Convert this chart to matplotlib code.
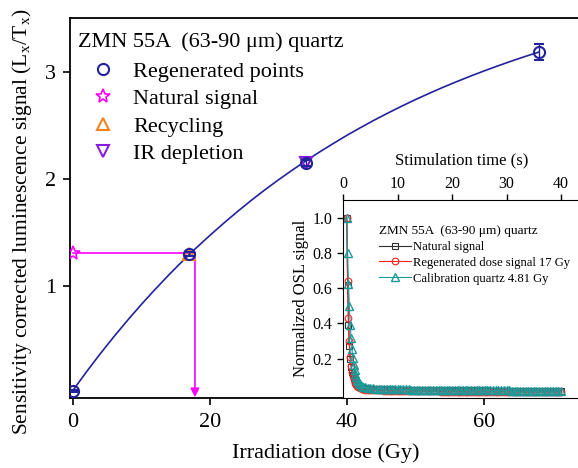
import numpy as np
import matplotlib
matplotlib.use('Agg')
import matplotlib.pyplot as plt
from matplotlib.lines import Line2D

plt.rcParams['font.family'] = 'Liberation Serif'
plt.rcParams['mathtext.fontset'] = 'stix'

# growth curve data (main plot)
regen_dose = [0, 17, 34, 68]
regen_signal = [0.02, 1.30, 2.15, 3.19]
regen_err = [0.01, 0.02, 0.03, 0.075]

natural_dose = [0]
natural_signal = [1.31]
recycling_dose = [17]
recycling_signal = [1.30]
ir_dose = [34]
ir_signal = [2.15]

# equivalent dose read-off
de_value = 17.8
nat_level = 1.31

# fitted curve
fit_dose = [0, 2, 4, 6, 8, 10, 12, 14, 16, 18, 20, 22, 24, 26, 28, 30, 32, 34,
            36, 38, 40, 42, 44, 46, 48, 50, 52, 54, 56, 58, 60, 62, 64, 66, 68]
fit_signal = [0.03, 0.205, 0.373, 0.533, 0.686, 0.833, 0.973, 1.108, 1.237, 1.360,
              1.477, 1.590, 1.698, 1.802, 1.901, 1.995, 2.085, 2.172, 2.255, 2.334,
              2.411, 2.483, 2.553, 2.619, 2.683, 2.744, 2.802, 2.858, 2.911, 2.962,
              3.011, 3.058, 3.103, 3.146, 3.187]

# inset: OSL decay curves
t_early = [0.64, 0.80, 0.96, 1.12, 1.28, 1.44, 1.60, 1.76, 1.92, 2.08, 2.24,
           2.40, 2.56, 2.72, 2.88, 3.04, 3.36, 3.68, 4.00]
nat_early = [1.00, 0.62, 0.39, 0.27, 0.20, 0.155, 0.125, 0.105, 0.09, 0.078, 0.068,
             0.060, 0.054, 0.049, 0.045, 0.042, 0.038, 0.035, 0.033]
reg_early = [1.00, 0.64, 0.43, 0.30, 0.21, 0.16, 0.125, 0.10, 0.083, 0.07, 0.06,
             0.052, 0.046, 0.041, 0.037, 0.034, 0.030, 0.027, 0.025]
cal_early = [1.00, 0.80, 0.625, 0.50, 0.39, 0.317, 0.255, 0.205, 0.165, 0.135, 0.112,
             0.095, 0.082, 0.071, 0.063, 0.056, 0.047, 0.041, 0.037]

# background part of the decay, one channel every 0.5 s from 4.5 s to 40 s
t_tail = list(np.arange(4.5, 40.01, 0.5))
nat_tail = [0.031, 0.030, 0.029, 0.028, 0.028, 0.027, 0.027, 0.026,
            0.026, 0.026, 0.025, 0.025, 0.025, 0.025, 0.024, 0.024,
            0.024, 0.024, 0.023, 0.023, 0.023, 0.023, 0.023, 0.022,
            0.022, 0.022, 0.022, 0.022, 0.022, 0.021, 0.021, 0.021,
            0.021, 0.021, 0.021, 0.021, 0.020, 0.020, 0.020, 0.020,
            0.020, 0.020, 0.020, 0.020, 0.020, 0.019, 0.019, 0.019,
            0.019, 0.019, 0.019, 0.019, 0.019, 0.019, 0.018, 0.018,
            0.018, 0.018, 0.018, 0.018, 0.018, 0.018, 0.018, 0.018,
            0.017, 0.017, 0.017, 0.017, 0.017, 0.017, 0.017, 0.017]
reg_tail = [0.023, 0.022, 0.021, 0.021, 0.020, 0.020, 0.019, 0.019,
            0.019, 0.018, 0.018, 0.018, 0.017, 0.017, 0.017, 0.017,
            0.016, 0.016, 0.016, 0.016, 0.016, 0.015, 0.015, 0.015,
            0.015, 0.015, 0.015, 0.014, 0.014, 0.014, 0.014, 0.014,
            0.014, 0.014, 0.014, 0.013, 0.013, 0.013, 0.013, 0.013,
            0.013, 0.013, 0.013, 0.013, 0.012, 0.012, 0.012, 0.012,
            0.012, 0.012, 0.012, 0.012, 0.012, 0.012, 0.012, 0.011,
            0.011, 0.011, 0.011, 0.011, 0.011, 0.011, 0.011, 0.011,
            0.011, 0.011, 0.011, 0.011, 0.011, 0.011, 0.011, 0.011]
cal_tail = [0.034, 0.033, 0.032, 0.031, 0.030, 0.030, 0.029, 0.029,
            0.028, 0.028, 0.027, 0.027, 0.027, 0.026, 0.026, 0.026,
            0.025, 0.025, 0.025, 0.025, 0.024, 0.024, 0.024, 0.024,
            0.023, 0.023, 0.023, 0.023, 0.023, 0.022, 0.022, 0.022,
            0.022, 0.022, 0.022, 0.021, 0.021, 0.021, 0.021, 0.021,
            0.021, 0.021, 0.021, 0.020, 0.020, 0.020, 0.020, 0.020,
            0.020, 0.020, 0.020, 0.020, 0.020, 0.019, 0.019, 0.019,
            0.019, 0.019, 0.019, 0.019, 0.019, 0.019, 0.019, 0.019,
            0.019, 0.019, 0.019, 0.019, 0.019, 0.019, 0.019, 0.019]

navy = '#22229a'
magenta = '#ff00ff'
orange = '#f5821f'
purple = '#8a1be0'

fig = plt.figure(figsize=(5.78, 4.68), dpi=100)
ax = fig.add_axes([0.121, 0.1506, 0.885, 0.811])

ax.plot(fit_dose, fit_signal, color=navy, lw=1.2, zorder=2)
ax.plot([0, de_value], [nat_level, nat_level], color=magenta, lw=1.2, zorder=2)
ax.annotate('', xy=(de_value, -0.035), xytext=(de_value, nat_level),
            arrowprops=dict(arrowstyle='-|>', color=magenta, lw=1.2, mutation_scale=13,
                            shrinkA=0, shrinkB=0), zorder=2)
ax.errorbar(regen_dose, regen_signal, yerr=regen_err, fmt='o', ms=8, mfc='none',
            mec=navy, mew=1.5, ecolor=navy, elinewidth=1, capsize=3.5, zorder=4)
ax.plot(natural_dose, natural_signal, '*', ms=10, mfc='none', mec=magenta, mew=1.2, zorder=4)
ax.plot(recycling_dose, recycling_signal, '^', ms=8, mfc='none', mec=orange, mew=1.5, zorder=3)
ax.plot(ir_dose, ir_signal, 'v', ms=8, mfc='none', mec=purple, mew=1.5, zorder=3)

ax.set_xlim(-0.44, 74.2)
ax.set_ylim(-0.037, 3.505)
ax.set_xticks([0, 20, 40, 60])
ax.set_yticks([1, 2, 3])
ax.tick_params(labelsize=16, direction='out', length=5, width=1.2)
ax.tick_params(axis='x', pad=6)
ax.tick_params(axis='y', pad=5)
for s in ax.spines.values():
    s.set_linewidth(1.3)
ax.set_xlabel('Irradiation dose (Gy)', fontsize=16, labelpad=8)
ax.set_ylabel('Sensitivity corrected luminescence signal (L$_\\mathregular{x}$/T$_\\mathregular{x}$)',
              fontsize=15.5)
ax.yaxis.set_label_coords(-0.07, 0.465)

ax.text(0.016, 0.937, 'ZMN 55A  (63-90 μm) quartz', transform=ax.transAxes,
        fontsize=16, ha='left', va='center')
handles = [
    Line2D([], [], ls='none', marker='o', ms=8, mfc='none', mec=navy, mew=1.5),
    Line2D([], [], ls='none', marker='*', ms=10, mfc='none', mec=magenta, mew=1.2),
    Line2D([], [], ls='none', marker='^', ms=8, mfc='none', mec=orange, mew=1.5),
    Line2D([], [], ls='none', marker='v', ms=8, mfc='none', mec=purple, mew=1.5),
]
ax.legend(handles, ['Regenerated points', 'Natural signal', 'Recycling', 'IR depletion'],
          fontsize=16, loc='upper left', bbox_to_anchor=(0.016, 0.886), frameon=False,
          handlelength=2.25, handletextpad=0.23, labelspacing=0.31,
          borderpad=0, borderaxespad=0)

# inset
ins = fig.add_axes([0.5934, 0.1506, 0.412, 0.422])
t_all = t_early + t_tail
ins.plot(t_all, nat_early + nat_tail, '-s', color='#303030', lw=0.8, ms=4.2,
         mfc='none', mew=0.8, label='Natural signal')
ins.plot(t_all, reg_early + reg_tail, '-o', color='#ff2020', lw=0.8, ms=4.8,
         mfc='none', mew=0.8, label='Regenerated dose signal 17 Gy')
ins.plot(t_all, cal_early + cal_tail, '-^', color='#1a9a9a', lw=0.8, ms=6.3,
         mfc='none', mew=1.0, label='Calibration quartz 4.81 Gy')
ins.set_xlim(-0.05, 43.7)
ins.set_ylim(-0.02, 1.1)
ins.set_xticks([0, 10, 20, 30, 40])
ins.set_yticks([0.2, 0.4, 0.6, 0.8, 1.0])
ins.set_yticklabels(['0.2', '0.4', '0.6', '0.8', '1.0'])
ins.xaxis.tick_top()
ins.xaxis.set_label_position('top')
ins.tick_params(labelsize=11.5, direction='out', length=4, width=1)
ins.tick_params(axis='x', pad=2)
ins.set_xlabel('Stimulation time (s)', fontsize=12, labelpad=8)
ins.set_ylabel('Normalized OSL signal', fontsize=12, labelpad=3)
ins.legend(title='ZMN 55A  (63-90 μm) quartz', title_fontsize=9.5, fontsize=9.1,
           loc='upper left', bbox_to_anchor=(0.105, 0.93), frameon=False,
           handlelength=2.5, handletextpad=0.2, labelspacing=0.3, alignment='left')

fig.savefig('out.png', dpi=100)
